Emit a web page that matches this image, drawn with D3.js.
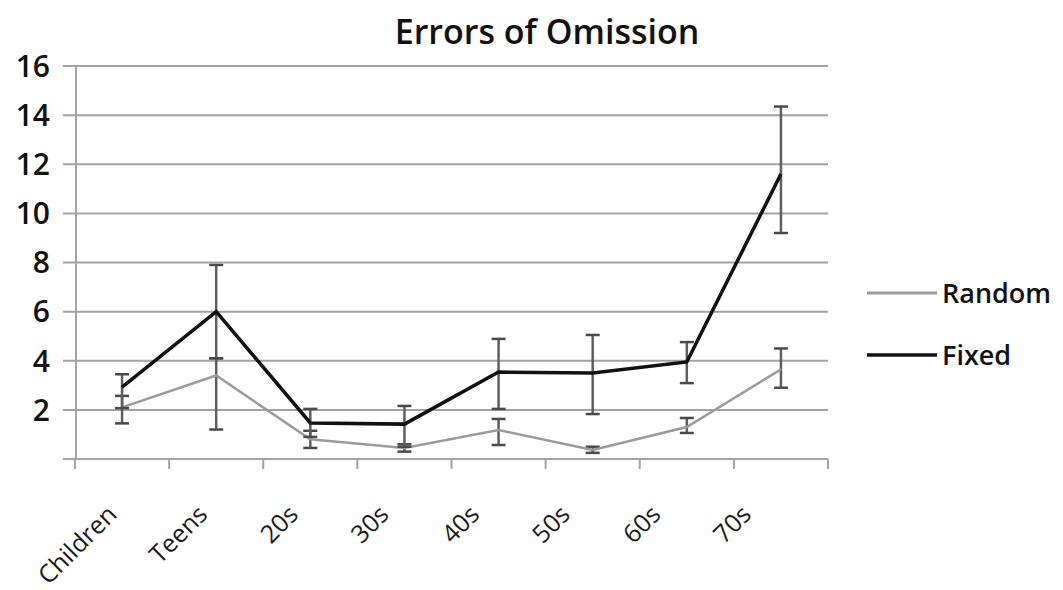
<!DOCTYPE html>
<html>
<head>
<meta charset="utf-8">
<script src="https://cdn.jsdelivr.net/npm/d3@7"></script>
<style>
    body { margin: 0; background: #fff; }
    text { font-family: "Open Sans", sans-serif; font-weight: 600; fill: #111; }
    .xlab { font-weight: 500; fill: #1a1a1a; }
</style>
</head>
<body>
<script>
const categories = ['Children', 'Teens', '20s', '30s', '40s', '50s', '60s', '70s'];
const yTicks = [2, 4, 6, 8, 10, 12, 14, 16];

const randomMean = [2.1, 3.4, 0.8, 0.45, 1.18, 0.37, 1.3, 3.65];
const randomLow = [1.45, 1.2, 0.45, 0.3, 0.57, 0.25, 1.06, 2.9];
const randomHigh = [2.57, 4.1, 1.15, 0.6, 1.63, 0.5, 1.67, 4.5];

const fixedMean = [2.93, 6.0, 1.47, 1.42, 3.54, 3.5, 3.95, 11.6];
const fixedLow = [2.07, 4.1, 0.9, 0.5, 2.04, 1.83, 3.09, 9.2];
const fixedHigh = [3.45, 7.9, 2.04, 2.16, 4.89, 5.05, 4.76, 14.35];

const width = 1063;
const height = 590;
const plotLeft = 75, plotRight = 828, plotTop = 66, plotBottom = 459;

const svg = d3.select('body')
    .append('svg')
    .attr('width', width)
    .attr('height', height);

const x = d3.scaleBand()
    .domain(categories)
    .range([plotLeft, plotRight])
    .padding(0);
// rotated labels drift left of their bands, as in the original
const xLabel = d3.scaleBand()
    .domain(categories)
    .range([plotLeft, plotLeft + 725]);
const y = d3.scaleLinear()
    .domain([0, 16])
    .range([plotBottom, plotTop]);
const cx = d => x(d) + x.bandwidth() / 2;

// gridlines + y tick labels
svg.append('g')
    .selectAll('line')
    .data([0, ...yTicks])
    .enter()
    .append('line')
    .attr('x1', plotLeft - 12)
    .attr('x2', plotRight)
    .attr('y1', d => y(d))
    .attr('y2', d => y(d))
    .attr('stroke', '#a3a3a3')
    .attr('stroke-width', 2);

svg.append('g')
    .selectAll('text')
    .data(yTicks)
    .enter()
    .append('text')
    .attr('x', 50)
    .attr('y', d => y(d))
    .attr('dy', '0.36em')
    .attr('text-anchor', 'end')
    .attr('font-size', 30)
    .text(d => d);

// y axis line
svg.append('line')
    .attr('x1', plotLeft + 1).attr('x2', plotLeft + 1)
    .attr('y1', y(16)).attr('y2', y(0))
    .attr('stroke', '#a3a3a3')
    .attr('stroke-width', 2);

// x ticks at band edges
const edges = categories.map(d => x(d)).concat([plotRight]);
svg.append('g')
    .selectAll('line')
    .data(edges)
    .enter()
    .append('line')
    .attr('x1', d => d).attr('x2', d => d)
    .attr('y1', plotBottom).attr('y2', plotBottom + 10)
    .attr('stroke', '#a3a3a3')
    .attr('stroke-width', 2);

svg.append('g')
    .selectAll('text')
    .data(categories)
    .enter()
    .append('text')
    .attr('class', 'xlab')
    .attr('transform', d =>
        `translate(${xLabel(d) + xLabel.bandwidth() / 2 - 2}, ${plotBottom + 57}) rotate(-45)`)
    .attr('text-anchor', 'end')
    .attr('font-size', 25)
    .text(d => d);

// title
svg.append('text')
    .attr('x', 547)
    .attr('y', 44)
    .attr('text-anchor', 'middle')
    .attr('font-size', 34)
    .text('Errors of Omission');

function drawSeries(mean, low, high, color, lw) {
    const g = svg.append('g');
    const errs = categories.map((c, i) => ({ c, lo: low[i], hi: high[i] }));
    g.selectAll('line.bar')
        .data(errs)
        .enter()
        .append('line')
        .attr('x1', d => cx(d.c)).attr('x2', d => cx(d.c))
        .attr('y1', d => y(d.lo)).attr('y2', d => y(d.hi))
        .attr('stroke', '#5e5e5e')
        .attr('stroke-width', 2.5);
    ['lo', 'hi'].forEach(k => {
        g.selectAll('line.cap-' + k)
            .data(errs)
            .enter()
            .append('line')
            .attr('x1', d => cx(d.c) - 7).attr('x2', d => cx(d.c) + 7)
            .attr('y1', d => y(d[k])).attr('y2', d => y(d[k]))
            .attr('stroke', '#4a4a4a')
            .attr('stroke-width', 2.5);
    });
    const line = d3.line()
        .x((d, i) => cx(categories[i]))
        .y(d => y(d));
    g.append('path')
        .datum(mean)
        .attr('d', line)
        .attr('fill', 'none')
        .attr('stroke', color)
        .attr('stroke-width', lw);
}

drawSeries(randomMean, randomLow, randomHigh, '#9b9b9b', 2.5);
drawSeries(fixedMean, fixedLow, fixedHigh, '#111', 3.5);

// legend
const legend = [
    { name: 'Random', color: '#9b9b9b', lw: 3, yy: 293 },
    { name: 'Fixed', color: '#111', lw: 3.5, yy: 355 },
];
const lg = svg.append('g')
    .selectAll('g')
    .data(legend)
    .enter()
    .append('g')
    .attr('transform', d => `translate(867, ${d.yy})`);
lg.append('line')
    .attr('x1', 0).attr('x2', 70)
    .attr('stroke', d => d.color)
    .attr('stroke-width', d => d.lw);
lg.append('text')
    .attr('x', 75)
    .attr('dy', '0.36em')
    .attr('font-size', 27)
    .text(d => d.name);
</script>
</body>
</html>
